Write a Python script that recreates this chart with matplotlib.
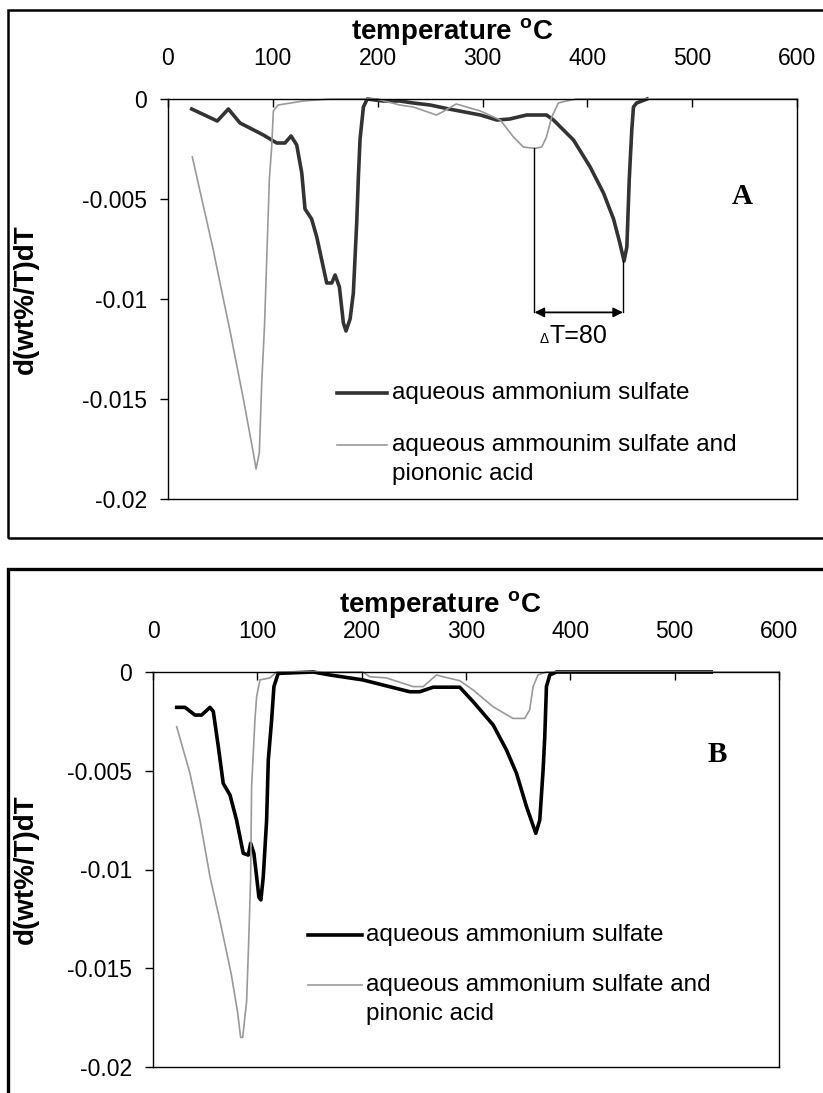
import matplotlib
matplotlib.use("Agg")
from matplotlib import pyplot as plt
from matplotlib.patches import Rectangle

plt.rcParams['font.family'] = ['Liberation Sans', 'DejaVu Sans']
plt.rcParams['mathtext.fontset'] = 'custom'
plt.rcParams['mathtext.rm'] = 'Liberation Sans'
plt.rcParams['mathtext.bf'] = 'Liberation Sans:bold'

# ---- data ----
xticks = [0, 100, 200, 300, 400, 500, 600]
yticks = [0, -0.005, -0.01, -0.015, -0.02]
yticklabels = ['0', '-0.005', '-0.01', '-0.015', '-0.02']

# panel A, aqueous ammonium sulfate
temp_a_as = [22.6, 47, 57.6, 68.7, 91, 103.7, 111.6, 117.4, 122.8, 127.6, 130.7, 137,
             141.9, 151.4, 156.2, 159.4, 163.5, 167.3, 169.8, 173.7, 176.8, 180, 181.6,
             183.2, 186.4, 190, 205, 221, 234, 250, 268, 298, 313.6, 326, 342, 361, 367.7,
             386.8, 402.7, 415.4, 425, 431, 435, 437.7, 440, 442.4, 444, 447, 457]
dtg_a_as = [-0.0005, -0.0011, -0.0005, -0.0012, -0.0018, -0.0022, -0.0022, -0.00185, -0.0023,
            -0.0037, -0.0055, -0.006, -0.0069, -0.0092, -0.0092, -0.0088, -0.0094, -0.0112,
            -0.0116, -0.011, -0.0097, -0.0062, -0.0039, -0.002, -0.0004, 0, -0.0001, -0.0001,
            -0.0002, -0.0003, -0.0005, -0.0008, -0.00105, -0.001, -0.0008, -0.0008, -0.00105,
            -0.00205, -0.0034, -0.0047, -0.006, -0.0072, -0.0081, -0.0074, -0.004, -0.00155,
            -0.0004, -0.0002, 0]

# panel A, ammonium sulfate + pinonic acid
temp_a_pa = [23.2, 43, 52.8, 59, 71.9, 81.4, 84, 87.1, 89.4, 92, 94.5, 96.7, 98.9, 100.5, 105,
             129, 155, 199, 221, 234, 256, 260, 275, 298, 317, 329.5, 339, 350, 356.5, 361,
             366, 372.4, 380, 390, 600]
dtg_a_pa = [-0.0029, -0.0075, -0.01, -0.01155, -0.015, -0.0177, -0.0185, -0.0177, -0.0142,
            -0.0114, -0.0075, -0.004, -0.0024, -0.0006, -0.0003, -0.0001, 0, 0, -0.0003,
            -0.0004, -0.0008, -0.0007, -0.00025, -0.0006, -0.00105, -0.0019, -0.0024,
            -0.00247, -0.0024, -0.0019, -0.0009, -0.0002, -0.0001, 0, 0]

# panel B, aqueous ammonium sulfate
temp_b_as = [22.7, 30.7, 40.2, 46.6, 54.6, 57.8, 62.6, 67.3, 73.8, 80.1, 86.5, 91.3, 93.6,
             96.7, 99.3, 101.5, 103.4, 105.7, 108.9, 110.5, 113.7, 115.9, 120, 153.5, 169.5,
             201, 246, 255.7, 268.5, 294, 306.8, 326, 338.8, 348.4, 358, 366.9, 370.7, 373.9,
             375.5, 377.1, 380.3, 386.7, 535]
dtg_b_as = [-0.00179, -0.00179, -0.00218, -0.00218, -0.00179, -0.002, -0.00378, -0.00564,
            -0.00623, -0.0075, -0.00918, -0.00927, -0.00867, -0.00918, -0.01036, -0.0114,
            -0.01154, -0.01036, -0.0075, -0.00446, -0.00243, -0.00074, -0.00007, 0, -0.00015,
            -0.0004, -0.001, -0.001, -0.00077, -0.00077, -0.0015, -0.00268, -0.00395,
            -0.00513, -0.00682, -0.00817, -0.0075, -0.00496, -0.00327, -0.00074, -0.00015, 0, 0]

# panel B, ammonium sulfate + pinonic acid
temp_b_pa = [22.7, 35.4, 45, 54.6, 65, 75, 81, 84, 86, 88, 89.7, 91.5, 93.6, 94.5, 97.7, 99.3,
             102.5, 112, 118.5, 150, 201, 207.9, 223.8, 249.3, 259, 271.7, 278, 294, 306.8,
             326, 345, 356.3, 361, 364.3, 369, 377, 600]
dtg_b_pa = [-0.00277, -0.00513, -0.0075, -0.01036, -0.0128, -0.0153, -0.0172, -0.0185, -0.0185,
            -0.0175, -0.0167, -0.014, -0.0104, -0.0058, -0.00243, -0.00125, -0.0004, -0.0003,
            0, 0, 0, -0.00024, -0.0003, -0.00074, -0.00074, -0.00015, -0.00024, -0.00044,
            -0.00091, -0.00176, -0.00235, -0.00235, -0.00192, -0.00074, -0.00015, 0, 0]

# delta T annotation in panel A
dT_left, dT_left_y = 349.6, -0.00247
dT_right, dT_right_y = 434, -0.0081
arrow_y = -0.01067

W, H = 823, 1093
fig = plt.figure(figsize=(W / 100, H / 100), dpi=100)


def frame(top, bottom, lw):
    r = Rectangle((8 / W, 1 - bottom / H), 2.0, (bottom - top) / H,
                  transform=fig.transFigure, fill=False, lw=lw, ec='black')
    fig.patches.append(r)


def panel(left, right, top, bottom, title_x):
    ax = fig.add_axes([left / W, 1 - bottom / H, (right - left) / W, (bottom - top) / H])
    ax.set_xlim(0, 600)
    ax.set_ylim(-0.02, 0)
    ax.xaxis.tick_top()
    ax.xaxis.set_label_position('top')
    ax.set_xticks(xticks)
    ax.set_yticks(yticks)
    ax.set_yticklabels(yticklabels)
    ax.tick_params(axis='x', direction='in', length=6, width=1, pad=21, labelsize=16.5)
    ax.tick_params(axis='y', direction='out', length=6, width=1, pad=9, labelsize=16.5)
    ax.set_xlabel('temperature $^{\\mathbf{o}}$C', fontweight='bold', fontsize=20, labelpad=5)
    ax.xaxis.label.set_x((title_x - left) / (right - left))
    ax.set_ylabel('d(wt%/T)dT', fontweight='bold', fontsize=20)
    ax.yaxis.set_label_coords((39 - left) / (right - left), 0.5)
    for s in ax.spines.values():
        s.set_linewidth(1)
    return ax


def legend(ax, x0, x1, xt, ys, dark, labels):
    ax.plot([x0, x1], [ys[0], ys[0]], color=dark, lw=2.6, transform=ax.transAxes)
    ax.plot([x0, x1], [ys[1], ys[1]], color='#999999', lw=1.2, transform=ax.transAxes)
    for y, lab in zip(ys, labels):
        ax.text(xt, y, lab, fontsize=17.5, va='center', transform=ax.transAxes)


# ---- panel A ----
frame(10, 538, 1.8)
axa = panel(168, 797, 99, 499, 452)
axa.plot(temp_a_as, dtg_a_as, color='#333333', lw=2.6, clip_on=False)
axa.plot(temp_a_pa, dtg_a_pa, color='#999999', lw=1.2, clip_on=False)
axa.plot([dT_left, dT_left], [dT_left_y, arrow_y], color='black', lw=1)
axa.plot([dT_right, dT_right], [dT_right_y, arrow_y], color='black', lw=1)
axa.annotate('', xy=(dT_right, arrow_y), xytext=(dT_left, arrow_y),
             arrowprops=dict(arrowstyle='<|-|>', color='black', lw=1.3,
                             shrinkA=0, shrinkB=0, mutation_scale=14))
axa.text(364, -0.0122, 'T=80', fontsize=18, ha='left', va='baseline')
axa.text(363, -0.0122, 'Δ', fontsize=10, ha='right', va='baseline')
axa.text(0.913, 0.755, 'A', fontsize=21, fontweight='bold', family='Liberation Serif',
         ha='center', va='center', transform=axa.transAxes)
legend(axa, 0.269, 0.348, 0.356, [0.265, 0.135, 0.062], '#333333',
       ['aqueous ammonium sulfate', 'aqueous ammounim sulfate and', 'piononic acid'])

# ---- panel B ----
frame(569, 1110, 2.4)
axb = panel(153, 779, 672, 1067, 440)
axb.plot(temp_b_as, dtg_b_as, color='black', lw=2.6, clip_on=False)
axb.plot(temp_b_pa, dtg_b_pa, color='#999999', lw=1.2, clip_on=False)
axb.text(0.901, 0.79, 'B', fontsize=21, fontweight='bold', family='Liberation Serif',
         ha='center', va='center', transform=axb.transAxes)
legend(axb, 0.248, 0.334, 0.340, [0.334, 0.208, 0.134], 'black',
       ['aqueous ammonium sulfate', 'aqueous ammonium sulfate and', 'pinonic acid'])

plt.savefig('out.png', dpi=100)
